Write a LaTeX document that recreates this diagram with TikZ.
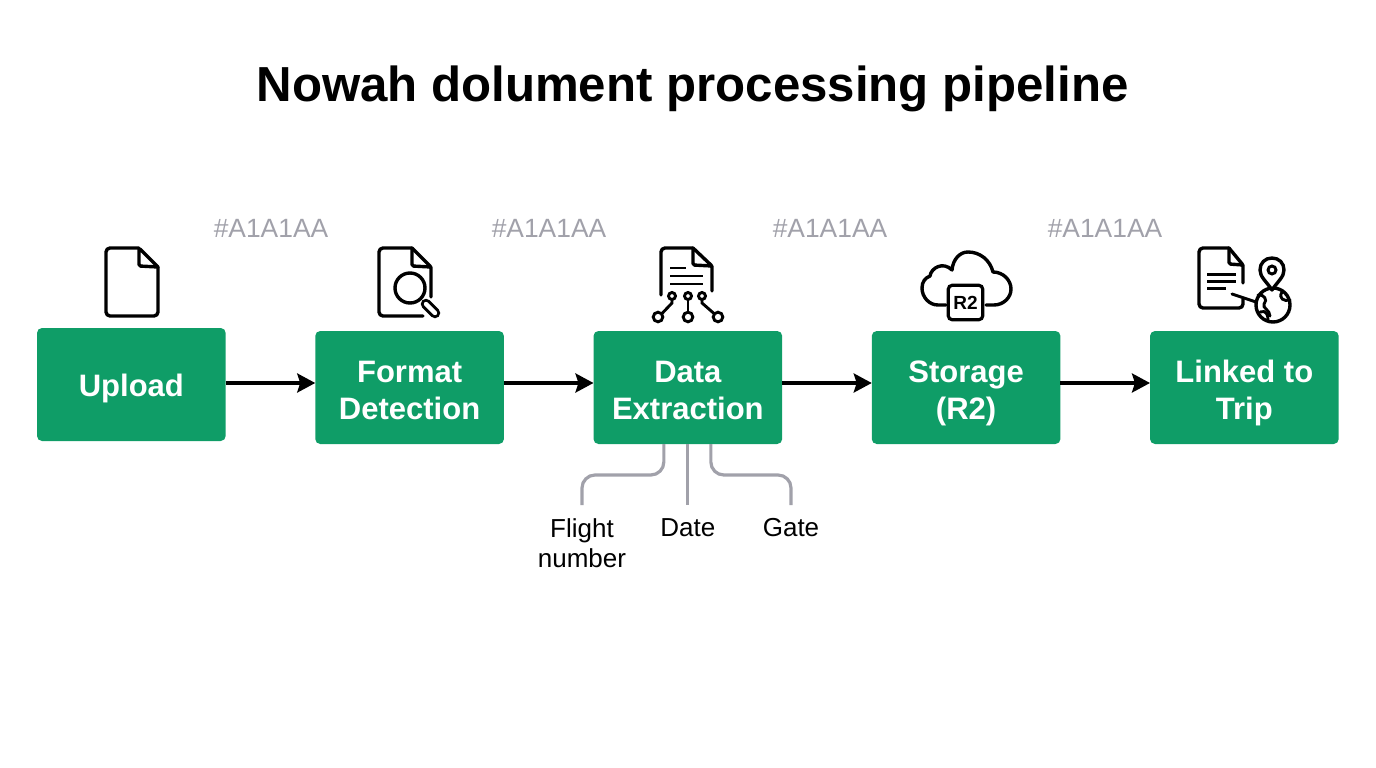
\documentclass[tikz,border=0pt]{standalone}
\usepackage{fontspec}
\setsansfont{Liberation Sans}
\usepackage{xcolor}
\usetikzlibrary{arrows.meta,positioning}
\definecolor{stagegreen}{HTML}{0F9D67}
\definecolor{hintgray}{HTML}{A1A1AA}

\begin{document}
\begin{tikzpicture}[
    x=1pt, y=-1pt,
    font=\sffamily,
    stagebox/.style={
      fill=stagegreen,
      rounded corners=5pt,
      align=center,
      text=white,
      minimum width=188.7pt,
      minimum height=113pt,
      inner sep=0pt,
      outer sep=0pt,
      font=\sffamily\bfseries\fontsize{31}{37}\selectfont,
      execute at begin node={\rule{0pt}{#1}},
      execute at end node={\rule[-8pt]{0pt}{8pt}}
    },
    stagebox/.default=32pt,
    hint/.style={text=hintgray, font=\sffamily\fontsize{26.4}{30}\selectfont},
    leaf/.style={align=center, anchor=north, inner xsep=0pt, inner ysep=12pt, outer sep=0pt,
      font=\sffamily\fontsize{26}{30.5}\selectfont,
      execute at begin node={\rule{0pt}{#1}}},
    leaf/.default=19pt,
    flow/.style={-{Stealth[length=18pt,width=19pt,inset=3pt]}, line width=3.3pt, draw=black},
    branch/.style={line width=3.2pt, draw=hintgray, rounded corners=13pt},
    icon/.style={line width=3.4pt, draw=black, line join=round, line cap=round, rounded corners=1.5pt},
    thinicon/.style={line width=2.9pt, draw=black, line cap=round}
  ]
    \useasboundingbox (0,0) rectangle (1376,768);

    \node[font=\sffamily\bfseries\fontsize{49.2}{58}\selectfont] (title) at (692.5,89)
      {Nowah dolument processing pipeline};

    % pipeline stages
    \node[stagebox] (upload) at (131.35,384.5) {Upload};
    \node[stagebox=71pt, right=89.55pt of upload, yshift=-3pt] (format) {Format\\Detection};
    \node[stagebox=71pt, right=89.55pt of format] (extract) {Data\\Extraction};
    \node[stagebox=71pt, right=89.55pt of extract] (storage) {Storage\\(R2)};
    \node[stagebox=71pt, right=89.55pt of storage] (linked) {Linked to\\Trip};

    \draw[flow] ([yshift=1.5pt]upload.east) -- ([yshift=4.5pt]format.west);
    \draw[flow] ([yshift=4.5pt]format.east) -- ([yshift=4.5pt]extract.west);
    \draw[flow] ([yshift=4.5pt]extract.east) -- ([yshift=4.5pt]storage.west);
    \draw[flow] ([yshift=4.5pt]storage.east) -- ([yshift=4.5pt]linked.west);

    \node[hint] (hintone) at (271,228) {\#A1A1AA};
    \node[hint] (hinttwo) at (549,228) {\#A1A1AA};
    \node[hint] (hintthree) at (830,228) {\#A1A1AA};
    \node[hint] (hintfour) at (1105,228) {\#A1A1AA};

    % extracted fields
    \node[leaf=50.5pt] (flight) at (582,505) {Flight\\number};
    \node[leaf, below=61pt of extract] (date) {Date};
    \node[leaf] (gate) at (791,505) {Gate};
    \draw[branch] ([xshift=-24pt]extract.south) -- ++(0,31) -| (flight.north);
    \draw[branch] (extract.south) -- (date.north);
    \draw[branch] ([xshift=23pt]extract.south) -- ++(0,31) -| (gate.north);

    % upload icon
    \draw[icon, rounded corners=4pt] (139,248) -- (106,248) -- (106,316) -- (158,316) -- (158,267);
    \draw[icon] (158,267) -- (139,248) -- (139,266) -- (158,267);

    % format icon
    \draw[icon, rounded corners=4pt] (412,248) -- (379,248) -- (379,316) -- (423,316);
    \draw[icon] (412,248) -- (431,267) -- (431,297);
    \draw[icon] (412,248) -- (412,266) -- (431,267);
    \draw[icon, fill=white] (410,288) circle (15);
    \draw[line width=10.5pt, line cap=round, draw=black] (426,304) -- (435,313);
    \draw[line width=4.4pt, line cap=round, draw=white] (426,304) -- (435,313);

    % extraction icon
    \draw[icon, rounded corners=4pt] (661,295) -- (661,248) -- (693,248);
    \draw[icon] (693,248) -- (712,266) -- (712,291);
    \draw[icon] (693,248) -- (693,265) -- (712,266);
    \draw[thinicon, line cap=butt] (670,268) -- (686,268);
    \draw[thinicon, line cap=butt] (670,276) -- (703,276);
    \draw[thinicon, line cap=butt] (670,284) -- (703,284);
    \draw[thinicon] (672,296) circle (3.5);
    \draw[thinicon] (688,296) circle (3.5);
    \draw[thinicon] (702,296) circle (3.5);
    \draw[thinicon] (658,317) circle (4.8);
    \draw[thinicon] (688,317) circle (4.8);
    \draw[thinicon] (718,317) circle (4.8);
    \draw[thinicon] (672,299.5) -- (672,303) -- (662,313.5);
    \draw[thinicon] (688,299.5) -- (688,312);
    \draw[thinicon] (702,299.5) -- (702,303) -- (714,313.5);

    % storage icon
    \draw[icon, rounded corners=0pt] (946,305) -- (938,305)
      .. controls (929,305) and (922,297) .. (922,288)
      .. controls (922,282) and (925,278) .. (930,276)
      .. controls (931,268) and (943,261) .. (952,270)
      .. controls (953,259) and (960,252) .. (968,252)
      .. controls (980,252) and (990,260) .. (993,272)
      .. controls (1003,272) and (1011,280) .. (1011,289)
      .. controls (1011,298) and (1003,305) .. (994,305) -- (986,305);
    \node[draw=black, line width=3.2pt, rounded corners=4pt, minimum width=34.5pt, minimum height=34.5pt,
      inner sep=0pt, font=\sffamily\bfseries\fontsize{19}{19}\selectfont] (rtwo) at (965.5,302.5) {R2};

    % linked icon
    \draw[icon, rounded corners=4pt] (1229,248) -- (1199,248) -- (1199,308) -- (1243,308) -- (1243,299);
    \draw[icon] (1229,248) -- (1243,265) -- (1243,283);
    \draw[icon] (1229,248) -- (1229,264) -- (1243,265);
    \draw[thinicon, line width=3pt, line cap=butt] (1207,274) -- (1236,274);
    \draw[thinicon, line width=3pt, line cap=butt] (1207,281) -- (1236,281);
    \draw[thinicon, line width=3pt, line cap=butt] (1207,288) -- (1226,288);
    \draw[icon, fill=white] (1273,305) circle (17);
    \draw[thinicon] (1232,294) -- (1256,302);
    \draw[thinicon] (1258,295) .. controls (1264,294) and (1268,300) .. (1264,304) .. controls (1262,308) and (1270,310) .. (1270,316);
    \draw[thinicon] (1282,292) .. controls (1278,298) and (1284,302) .. (1290,300);
    \draw[thinicon] (1260,312) .. controls (1266,310) and (1268,314) .. (1268,320);
    \draw[icon, fill=white, rounded corners=0pt] (1272,290)
      .. controls (1266,281) and (1260,277) .. (1260,270)
      .. controls (1260,263) and (1265,258) .. (1272,258)
      .. controls (1279,258) and (1284,263) .. (1284,270)
      .. controls (1284,277) and (1278,281) .. (1272,290) -- cycle;
    \draw[thinicon] (1272,270) circle (4);
\end{tikzpicture}
\end{document}
